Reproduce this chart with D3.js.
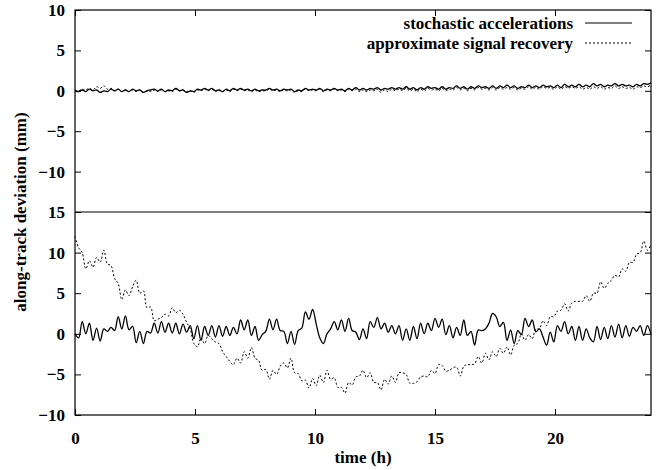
<!DOCTYPE html>
<html>
<head>
<meta charset="utf-8">
<script src="https://cdn.jsdelivr.net/npm/d3@7"></script>
<style>
  body { margin: 0; background: #fff; }
  svg text { font-family: "Liberation Serif", "Times New Roman", serif; font-weight: bold; }
</style>
</head>
<body>
<div id="chart"></div>
<script>
// samples every 0.15 h, from 0 to 24 h
const step = 0.15;

const xTicks = [0, 5, 10, 15, 20];
const topTicks = [10, 5, 0, -5, -10];
const bottomTicks = [15, 10, 5, 0, -5, -10];
const seriesNames = ["stochastic accelerations", "approximate signal recovery"];

// upper panel
const topStochastic = [
  0.0, -0.1, 0.1, -0.1, 0.2, 0.0, 0.1, -0.2, 0.0, -0.1,
  0.2, 0.0, 0.2, -0.1, 0.1, -0.1, 0.2, 0.0, 0.1, -0.2,
  0.0, 0.1, 0.2, 0.0, 0.2, -0.1, 0.1, 0.0, 0.3, 0.0,
  0.1, -0.2, 0.0, -0.1, 0.2, 0.1, 0.3, 0.1, 0.3, 0.0,
  0.1, -0.1, 0.2, 0.0, 0.3, 0.1, 0.3, 0.1, 0.2, 0.0,
  0.2, 0.0, 0.1, 0.1, 0.3, 0.1, 0.2, 0.0, 0.2, 0.1,
  0.2, -0.1, 0.1, 0.0, 0.3, 0.1, 0.2, 0.1, 0.3, 0.0,
  0.2, 0.1, 0.3, 0.1, 0.2, 0.0, 0.3, 0.1, 0.4, 0.1,
  0.3, 0.1, 0.3, 0.2, 0.4, 0.1, 0.3, 0.2, 0.4, 0.2,
  0.4, 0.2, 0.5, 0.2, 0.4, 0.1, 0.4, 0.2, 0.5, 0.3,
  0.4, 0.2, 0.5, 0.2, 0.4, 0.3, 0.6, 0.3, 0.5, 0.2,
  0.5, 0.3, 0.6, 0.4, 0.5, 0.3, 0.6, 0.3, 0.6, 0.4,
  0.7, 0.4, 0.6, 0.3, 0.5, 0.4, 0.7, 0.4, 0.6, 0.4,
  0.7, 0.5, 0.6, 0.4, 0.7, 0.4, 0.8, 0.5, 0.7, 0.5,
  0.8, 0.5, 0.7, 0.5, 0.9, 0.6, 0.8, 0.5, 0.7, 0.6,
  0.9, 0.6, 0.8, 0.6, 0.7, 0.5, 0.8, 0.6, 0.9, 0.8, 1.0
];
const topRecovery = [
  0.1, 0.0, 0.2, 0.1, 0.3, 0.1, 0.5, 0.3, 0.6, 0.2,
  0.3, 0.0, 0.2, -0.1, 0.1, -0.1, 0.1, -0.1, 0.1, -0.2,
  0.0, -0.1, 0.1, -0.1, 0.1, -0.1, 0.0, -0.1, 0.2, 0.0,
  0.1, -0.1, 0.0, -0.2, 0.1, 0.0, 0.2, 0.0, 0.2, -0.1,
  0.1, -0.1, 0.1, -0.1, 0.2, 0.0, 0.2, 0.0, 0.1, -0.1,
  0.1, -0.1, 0.0, 0.0, 0.2, 0.0, 0.1, -0.1, 0.1, 0.0,
  0.1, -0.2, 0.0, -0.1, 0.2, 0.0, 0.1, 0.0, 0.2, -0.1,
  0.1, 0.0, 0.2, 0.0, 0.1, -0.1, 0.2, 0.0, 0.2, -0.1,
  0.1, -0.1, 0.1, 0.0, 0.2, -0.2, 0.1, -0.1, 0.2, 0.0,
  0.2, 0.0, 0.3, 0.0, 0.2, -0.1, 0.2, 0.0, 0.3, 0.1,
  0.2, 0.0, 0.3, 0.0, 0.2, 0.1, 0.4, 0.1, 0.3, 0.0,
  0.3, 0.1, 0.4, 0.2, 0.3, 0.1, 0.4, 0.1, 0.4, 0.2,
  0.4, 0.2, 0.4, 0.1, 0.3, 0.2, 0.5, 0.2, 0.4, 0.2,
  0.5, 0.3, 0.4, 0.2, 0.5, 0.2, 0.5, 0.3, 0.5, 0.3,
  0.5, 0.2, 0.4, 0.2, 0.5, 0.3, 0.5, 0.2, 0.4, 0.3,
  0.6, 0.3, 0.5, 0.3, 0.4, 0.2, 0.5, 0.4, 0.6, 0.5, 0.7
];

// lower panel
const bottomStochastic = [
  0.0, -0.5, 1.5, 0.0, 1.3, -0.8, 0.7, -0.9, 0.6, 0.3,
  0.8, 0.4, 2.1, 0.6, 2.2, 0.5, 0.9, -1.1, 0.3, -1.2,
  0.3, 0.1, 1.3, 0.1, 1.5, 0.2, 1.3, 0.1, 1.3, 0.0,
  1.2, 0.2, 1.0, -0.6, 1.0, -0.8, 0.9, -0.2, 1.0, -0.4,
  1.0, -0.3, 0.9, -0.2, 0.8, 0.0, 1.7, 0.5, 1.7, -0.2,
  0.9, -0.8, -0.1, 0.3, 1.8, 0.5, 1.8, 0.4, 0.3, -1.2,
  0.3, -1.3, 0.4, 0.7, 2.7, 1.8, 3.0, 1.2, -0.5, -1.2,
  0.0, 0.6, 1.5, 0.5, 1.7, 0.3, 1.9, 0.4, 0.2, -0.7,
  0.6, -0.6, 1.5, 0.8, 2.0, 0.6, 1.3, 0.2, 1.0, 0.0,
  1.0, -0.8, 0.6, -0.8, 0.9, -0.6, 1.3, 0.0, 1.3, 0.4,
  1.9, 0.8, 1.8, -0.1, 1.0, -0.5, 0.8, -0.2, 1.7, -0.2,
  0.3, -1.4, 0.45, 0.4, 0.6, 1.3, 2.5, 2.1, 0.9, 1.4,
  -0.8, 0.45, -1.2, 0.4, -0.1, 1.9, 0.9, 1.7, 0.25, 0.6,
  -0.4, -1.4, 0.2, -1.0, 1.0, 0.3, 1.5, 0.0, 0.9, -0.8,
  0.9, -0.8, 0.6, -0.5, -1.0, 0.9, -0.7, 0.8, -0.6, 1.0,
  -0.4, 1.2, -0.5, 1.0, -0.3, 0.8, 0.3, 1.0, -0.2, 1.0, -0.1
];
const bottomRecovery = [
  12.0, 10.6, 10.0, 8.0, 9.0, 8.2, 9.4, 8.8, 10.3, 8.6,
  8.4, 6.8, 6.2, 4.2, 5.4, 4.7, 5.8, 6.6, 5.0, 5.3,
  3.2, 3.3, 1.6, 1.8, 2.0, 2.4, 2.2, 3.2, 2.6, 2.9,
  2.4, 1.4, 0.6, -1.2, -1.6, -0.5, -1.2, -0.2, -0.6, -1.0,
  -1.2, -2.2, -2.8, -3.4, -3.8, -3.0, -3.6, -2.2, -3.0, -1.7,
  -3.0, -3.3, -4.5, -4.4, -5.6, -4.5, -5.0, -4.0, -3.6, -4.2,
  -3.0, -4.8, -4.9, -5.8, -5.7, -6.7, -5.5, -6.4, -5.1, -6.0,
  -4.5, -5.6, -5.4, -6.6, -6.6, -7.3, -6.0, -6.3, -5.3, -5.2,
  -4.5, -5.4, -4.8, -6.0, -6.0, -6.9, -5.6, -6.2, -5.2, -6.0,
  -4.8, -4.8, -5.0, -6.1, -6.1, -5.9, -5.3, -5.2, -5.3, -4.5,
  -4.9, -3.8, -3.9, -4.6, -4.5, -4.2, -4.1, -5.2, -4.0, -3.8,
  -3.8, -3.7, -2.8, -3.6, -2.4, -3.2, -2.2, -2.8, -1.8, -2.4,
  -1.6, -2.6, -1.4, -1.2, 0.0, -0.8, -0.1, -0.6, 0.6, 0.6,
  1.6, 1.0, 2.1, 2.1, 2.8, 2.9, 3.7, 2.8, 3.8, 4.0,
  4.0, 4.0, 4.7, 4.0, 5.0, 5.0, 6.4, 5.6, 6.2, 6.6,
  7.2, 7.0, 8.0, 7.7, 8.8, 8.8, 9.8, 10.0, 11.4, 10.3, 11.0
];

const W = 661, H = 470;
const plotLeft = 75, plotRight = 651, plotTop = 10, plotMid = 212, plotBottom = 415;
const fontSize = "17px";

const svg = d3.select("#chart").append("svg")
  .attr("width", W).attr("height", H);
svg.append("rect").attr("width", W).attr("height", H).attr("fill", "#fff");

const x = d3.scaleLinear().domain([0, 24]).range([plotLeft, plotRight]);
const yTop = d3.scaleLinear().domain([-15, 10]).range([plotMid, plotTop]);
const yBot = d3.scaleLinear().domain([-10, 15]).range([plotBottom, plotMid]);

const tickLen = 6;

function styleAxis(g) {
  g.select(".domain").remove();
  g.selectAll(".tick line").attr("stroke", "#000");
  g.selectAll("text").style("font-size", fontSize).attr("fill", "#000");
}

// y axes, left with labels, right with ticks only
svg.append("g").attr("transform", `translate(${plotLeft},0)`)
  .call(d3.axisLeft(yTop).tickValues(topTicks).tickSize(-tickLen).tickPadding(10))
  .call(styleAxis);
svg.append("g").attr("transform", `translate(${plotLeft},0)`)
  .call(d3.axisLeft(yBot).tickValues(bottomTicks).tickSize(-tickLen).tickPadding(10))
  .call(styleAxis);
svg.append("g").attr("transform", `translate(${plotRight},0)`)
  .call(d3.axisRight(yTop).tickValues(topTicks).tickSize(-tickLen).tickFormat(""))
  .call(styleAxis);
svg.append("g").attr("transform", `translate(${plotRight},0)`)
  .call(d3.axisRight(yBot).tickValues(bottomTicks).tickSize(-tickLen).tickFormat(""))
  .call(styleAxis);

// x axes
svg.append("g").attr("transform", `translate(0,${plotBottom})`)
  .call(d3.axisBottom(x).tickValues(xTicks).tickSize(-tickLen).tickPadding(17))
  .call(styleAxis);
svg.append("g").attr("transform", `translate(0,${plotTop})`)
  .call(d3.axisTop(x).tickValues(xTicks).tickSize(-tickLen).tickFormat(""))
  .call(styleAxis);

// borders
svg.append("rect")
  .attr("x", plotLeft).attr("y", plotTop)
  .attr("width", plotRight - plotLeft).attr("height", plotBottom - plotTop)
  .attr("fill", "none").attr("stroke", "#000").attr("stroke-width", 1.2);
svg.append("line")
  .attr("x1", plotLeft).attr("x2", plotRight).attr("y1", plotMid).attr("y2", plotMid)
  .attr("stroke", "#000").attr("stroke-width", 1.2);

function drawSeries(values, yScale, dashed) {
  const line = d3.line()
    .x((d, i) => x(i * step))
    .y(d => yScale(d))
    .curve(d3.curveCatmullRom);
  svg.append("path")
    .datum(values)
    .attr("d", line)
    .attr("fill", "none")
    .attr("stroke", "#000")
    .attr("stroke-width", dashed ? 1 : 1.3)
    .attr("stroke-dasharray", dashed ? "2,2" : null);
}

drawSeries(topRecovery, yTop, true);
drawSeries(topStochastic, yTop, false);
drawSeries(bottomRecovery, yBot, true);
drawSeries(bottomStochastic, yBot, false);

// legend
const legend = svg.append("g");
seriesNames.forEach((name, i) => {
  const ly = 23 + i * 20;
  legend.append("text")
    .attr("x", 573).attr("y", ly)
    .attr("dy", "0.35em")
    .attr("text-anchor", "end")
    .style("font-size", fontSize)
    .text(name);
  legend.append("line")
    .attr("x1", 585).attr("x2", 632)
    .attr("y1", ly).attr("y2", ly)
    .attr("stroke", "#000")
    .attr("stroke-width", i == 0 ? 1.2 : 1)
    .attr("stroke-dasharray", i == 0 ? null : "2,2");
});

// axis titles
svg.append("text")
  .attr("x", (plotLeft + plotRight) / 2).attr("y", 463)
  .attr("text-anchor", "middle")
  .style("font-size", fontSize)
  .text("time (h)");

svg.append("text")
  .attr("transform", `translate(20,${plotMid}) rotate(-90)`)
  .attr("text-anchor", "middle")
  .attr("dy", "0.35em")
  .style("font-size", fontSize)
  .text("along-track deviation (mm)");
</script>
</body>
</html>
